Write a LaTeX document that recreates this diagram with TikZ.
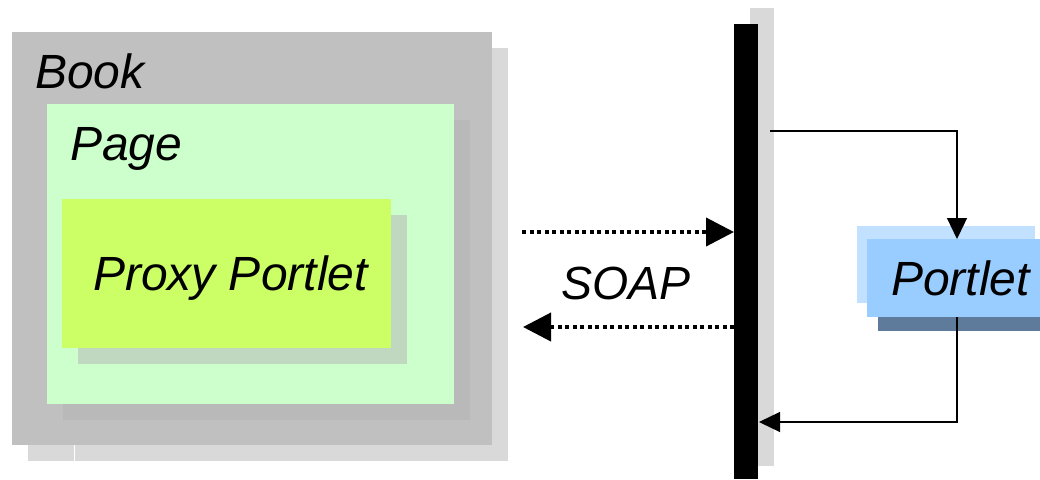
\documentclass[tikz,border=0pt]{standalone}
\usepackage{fontspec}
\setmainfont{Liberation Sans}
\usetikzlibrary{arrows.meta,calc}
\definecolor{bookgray}{HTML}{C0C0C0}
\definecolor{shadowgray}{HTML}{D9D9D9}
\definecolor{pageshadow}{HTML}{B9B9B9}
\definecolor{pagegreen}{HTML}{CCFFCC}
\definecolor{proxyshadow}{HTML}{C0D8C0}
\definecolor{proxygreen}{HTML}{CCFF66}
\definecolor{portletblue}{HTML}{99CCFF}
\definecolor{portletlight}{HTML}{C2E0FF}
\definecolor{portletdark}{HTML}{5E7B9B}
\begin{document}
\begin{tikzpicture}[x=1pt,y=-1pt,
  box/.style={inner sep=0pt,outer sep=0pt,anchor=north west,draw=none},
  lbl/.style={inner sep=0pt,outer sep=0pt,anchor=base west,font=\fontsize{48}{57}\selectfont\itshape},
  soaparrow/.style={line width=4pt,dash pattern=on 4pt off 3.5pt,-{Triangle[length=28pt,width=28pt]}},
  thinarrow/.style={line width=1.2pt,-{Triangle[length=21pt,width=20pt]}}]
\useasboundingbox (0,0) rectangle (1040,479);
% Book
\fill[shadowgray] (28,48) rectangle (508,461);
\draw[white,line width=1pt] (74.5,445) -- (74.5,461);
\node[box,fill=bookgray,minimum width=480pt,minimum height=413pt] (book) at (12,32) {};
\node[lbl] (booklbl) at (35,88) {Book};
% Page
\fill[pageshadow] (63,120) rectangle (470,420);
\node[box,fill=pagegreen,minimum width=407pt,minimum height=300pt] (page) at (47,104) {};
\node[lbl] (pagelbl) at (70,160) {Page};
% Proxy portlet
\fill[proxyshadow] (78,215) rectangle (407,364);
\node[box,fill=proxygreen,minimum width=329pt,minimum height=149pt] (proxy) at (62,199) {};
\node[lbl] (proxylbl) at (93,290) {Proxy Portlet};
% Bar
\fill[shadowgray] (750,8) rectangle (774,466);
\node[box,fill=black,minimum width=24pt,minimum height=455pt] (bar) at (734,24) {};
% Portlet
\fill[portletlight] (857,226) rectangle (1035,303);
\fill[portletdark] (878,317) rectangle (1045,331);
\node[box,fill=portletblue,minimum width=178pt,minimum height=78pt] (portlet) at (867,239) {};
\node[lbl] (portletlbl) at (891,295) {Portlet};
% SOAP
\node[lbl,font=\fontsize{46.5}{56}\selectfont\itshape] (soap) at (561,299) {SOAP};
\coordinate (soapstart) at (522,232);
\coordinate (soapend) at (733,327);
\draw[soaparrow] (soapstart) -- (bar.west |- soapstart);
\draw[soaparrow] (bar.west |- soapend) -- (523,327);
% thin connectors
\coordinate (outstart) at (770,131);
\coordinate (portin) at (957,239);
\coordinate (portout) at (957,317);
\coordinate (retturn) at (957,422);
\coordinate (retend) at (759,422);
\draw[thinarrow] (outstart) -| (portin);
\draw[thinarrow] (portout) -- (retturn) -- (retend);
\end{tikzpicture}
\end{document}
